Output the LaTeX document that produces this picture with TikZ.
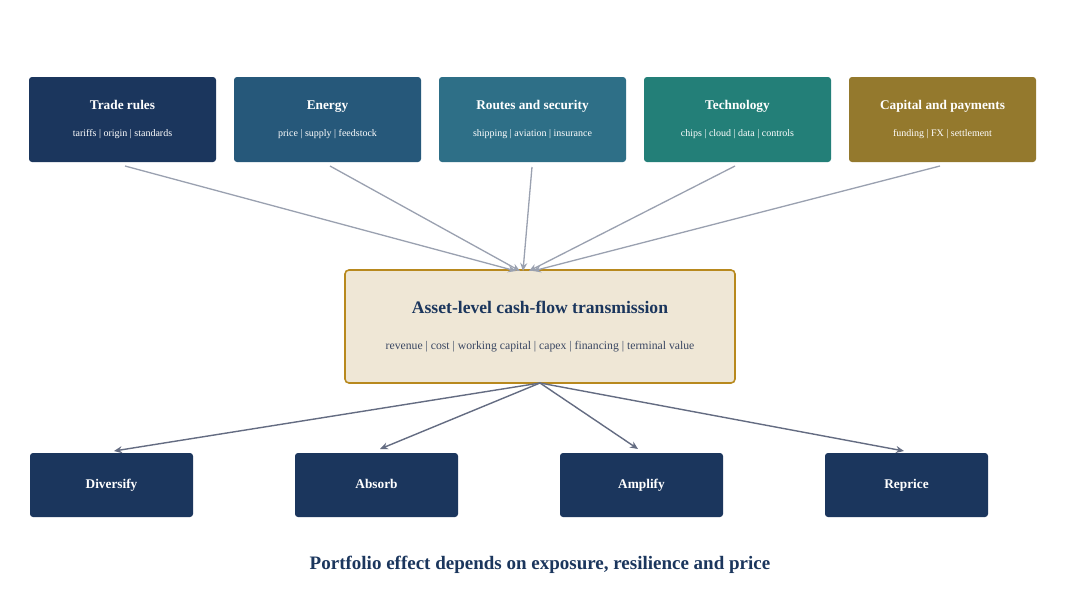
\documentclass[tikz,border=0pt]{standalone}
\usepackage{fontspec}
\setmainfont{Liberation Serif}
\usetikzlibrary{arrows.meta}
\definecolor{navy}{HTML}{1B365D}
\definecolor{cEnergy}{HTML}{26587A}
\definecolor{cRoutes}{HTML}{2E6F87}
\definecolor{cTech}{HTML}{237F78}
\definecolor{cCap}{HTML}{94792D}
\definecolor{coreFill}{HTML}{EFE7D6}
\definecolor{coreLine}{HTML}{B8891E}
\definecolor{inArrow}{HTML}{9AA1B0}
\definecolor{outArrow}{HTML}{646C82}
\definecolor{subText}{HTML}{3A4762}
\tikzset{
  x=1pt, y=-1pt,
  topbox/.style={rounded corners=3pt, minimum width=187pt, minimum height=85pt, inner sep=0pt, text=white, align=center},
  botbox/.style={rounded corners=3pt, fill=navy, minimum width=163pt, minimum height=64pt, inner sep=0pt, text=white, text height=9pt, text depth=3pt, font=\fontsize{13.3}{15}\selectfont\bfseries},
  inarr/.style={draw=inArrow, line width=1.3pt, -{Stealth[length=8pt,width=7pt]}},
  outarr/.style={draw=outArrow, line width=1.4pt, -{Stealth[length=8pt,width=7pt]}},
}
\newcommand{\toplabel}[2]{{\fontsize{13.3}{15}\selectfont\bfseries #1}\\[15pt]{\fontsize{10}{11}\selectfont #2}}
\begin{document}
\begin{tikzpicture}
\useasboundingbox (0,0) rectangle (1080,600);
\fill[white] (0,0) rectangle (1080,600);
% top boxes
\node[topbox, fill=navy]    (t1) at (122.5,119.5) {\toplabel{Trade rules}{tariffs | origin | standards}};
\node[topbox, fill=cEnergy] (t2) at (327.5,119.5) {\toplabel{Energy}{price | supply | feedstock}};
\node[topbox, fill=cRoutes] (t3) at (532.5,119.5) {\toplabel{Routes and security}{shipping | aviation | insurance}};
\node[topbox, fill=cTech]   (t4) at (737.5,119.5) {\toplabel{Technology}{chips | cloud | data | controls}};
\node[topbox, fill=cCap]    (t5) at (942.5,119.5) {\toplabel{Capital and payments}{funding | FX | settlement}};
% core
\node[rounded corners=4pt, fill=coreFill, draw=coreLine, line width=1.6pt, minimum width=390pt, minimum height=113pt, inner sep=0pt, align=center] (core) at (540,326.5)
  {{\fontsize{17.6}{20}\selectfont\bfseries\color{navy}Asset-level cash-flow transmission}\\[24pt]{\fontsize{11.7}{13}\selectfont\color{subText}revenue | cost | working capital | capex | financing | terminal value}};
% bottom boxes
\node[botbox] (b1) at (111.5,485) {Diversify};
\node[botbox] (b2) at (376.5,485) {Absorb};
\node[botbox] (b3) at (641.5,485) {Amplify};
\node[botbox] (b4) at (906.5,485) {Reprice};
% footer
\node[font=\fontsize{19}{22}\selectfont\bfseries, text=navy] (foot) at (540,565) {Portfolio effect depends on exposure, resilience and price};
% coordinates
\coordinate (s1) at (125,166);
\coordinate (s2) at (330,166);
\coordinate (s3) at (532,167);
\coordinate (s4) at (735,166);
\coordinate (s5) at (940,166);
\coordinate (e1) at (516,271);
\coordinate (e2) at (520,271);
\coordinate (e3) at (523,271);
\coordinate (e4) at (529,271);
\coordinate (e5) at (533,271);
\draw[inarr] (s1) -- (e1);
\draw[inarr] (s2) -- (e2);
\draw[inarr] (s3) -- (e3);
\draw[inarr] (s4) -- (e4);
\draw[inarr] (s5) -- (e5);
% outputs
\coordinate (o) at (540,383);
\coordinate (f1) at (114,451);
\coordinate (f2) at (380,449);
\coordinate (f3) at (638,449);
\coordinate (f4) at (904,451);
\draw[outarr] (o) -- (f1);
\draw[outarr] (o) -- (f2);
\draw[outarr] (o) -- (f3);
\draw[outarr] (o) -- (f4);
\end{tikzpicture}
\end{document}
